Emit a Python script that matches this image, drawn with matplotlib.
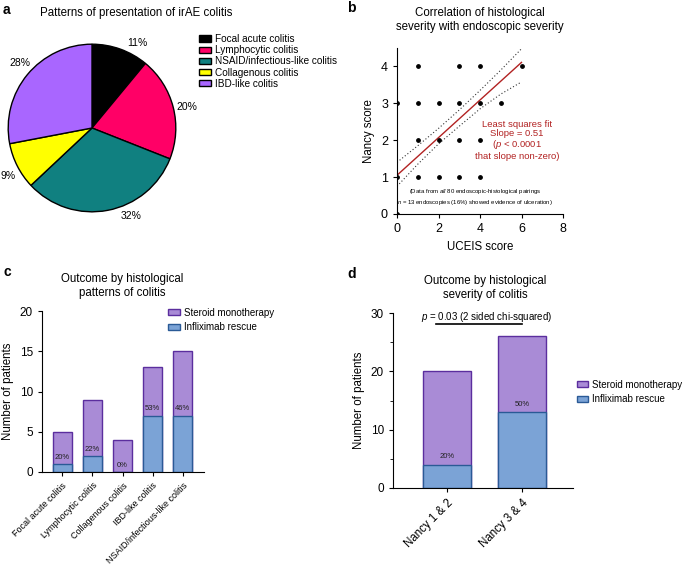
import matplotlib.pyplot as plt
import numpy as np

plt.rcParams['font.family'] = ['Liberation Sans', 'DejaVu Sans']
plt.rcParams['mathtext.fontset'] = 'custom'
plt.rcParams['mathtext.rm'] = 'Liberation Sans'
plt.rcParams['mathtext.it'] = 'Liberation Sans:italic'

# panel a
pie_labels = ["Focal acute colitis", "Lymphocytic colitis", "NSAID/infectious-like colitis",
              "Collagenous colitis", "IBD-like colitis"]
pie_values = [11, 20, 32, 9, 28]
pie_colors = ["#000000", "#FF0066", "#108080", "#FFFF00", "#A966FF"]
pie_label_shift = [-8, -2, 13, 3, -3]  # degrees, label nudges as in the original

# panel b
uceis_x = [0, 0, 0, 1, 1, 1, 1, 2, 2, 2, 3, 3, 3, 3, 4, 4, 4, 4, 5, 6]
nancy_y = [0, 1, 3, 1, 2, 3, 4, 1, 2, 3, 1, 2, 3, 4, 1, 2, 3, 4, 3, 4]
fit_slope = 0.51
fit_intercept = 1.05
band_x = [0, 1, 2, 3, 4, 5, 6]
band_upper = [1.40, 1.85, 2.32, 2.82, 3.35, 3.90, 4.48]
band_lower = [0.75, 1.35, 1.90, 2.38, 2.85, 3.25, 3.58]

# panel c
c_cats = ["Focal acute colitis", "Lymphocytic colitis", "Collagenous colitis",
          "IBD-like colitis", "NSAID/infectious-like colitis"]
c_total = [5, 9, 4, 13, 15]
c_inflix = [1, 2, 0, 7, 7]
c_pct = ["20%", "22%", "0%", "53%", "46%"]

# panel d
d_cats = ["Nancy 1 & 2", "Nancy 3 & 4"]
d_total = [20, 26]
d_inflix = [4, 13]
d_pct = ["20%", "50%"]

ster_fc, ster_ec = "#A98BD6", "#5B2E9E"
inf_fc, inf_ec = "#7BA3D6", "#2A5A96"
title_fs = 8.3

fig = plt.figure(figsize=(6.85, 5.69), dpi=100)

# ---- a
ax = fig.add_axes([4 / 685, 1 - 216 / 569, 176 / 685, 176 / 569])
wedges, _ = ax.pie(pie_values, colors=pie_colors, startangle=90, counterclock=False,
                   wedgeprops=dict(edgecolor="black", linewidth=1.0))
ang0 = 90
for v, sh in zip(pie_values, pie_label_shift):
    mid = np.deg2rad(ang0 - v * 3.6 / 2 + sh)
    ax.text(1.16 * np.cos(mid), 1.15 * np.sin(mid), f"{v}%", ha="center", va="center", fontsize=7.5)
    ang0 -= v * 3.6
ax.set_xlim(-1.05, 1.05)
ax.set_ylim(-1.05, 1.05)
ax.set_aspect("equal")
fig.text(136 / 685, 1 - 13 / 569, "Patterns of presentation of irAE colitis", ha="center",
         va="center", fontsize=title_fs)
fig.legend(wedges, pie_labels, loc="upper left", bbox_to_anchor=(199 / 685, 1 - 34 / 569),
           frameon=False, fontsize=7.2, handlelength=1.2, handleheight=0.6, labelspacing=0.12,
           handletextpad=0.4, borderaxespad=0, borderpad=0)

# ---- b
ax = fig.add_axes([397 / 685, 1 - 214 / 569, 166 / 685, 166 / 569])
ax.scatter(uceis_x, nancy_y, s=6, color="black", zorder=3, clip_on=True)
xs = np.array([0, 6])
ax.plot(xs, fit_intercept + fit_slope * xs, color="#B22222", lw=1.0)
ax.plot(band_x, band_upper, color="#333333", lw=0.8, ls=(0, (1, 2)))
ax.plot(band_x, band_lower, color="#333333", lw=0.8, ls=(0, (1, 2)))
ax.set_xlim(0, 8)
ax.set_ylim(0, 4.5)
ax.set_xticks([0, 2, 4, 6, 8])
ax.set_yticks([0, 1, 2, 3, 4])
ax.spines[["top", "right"]].set_visible(False)
ax.tick_params(labelsize=9, length=3)
ax.set_xlabel("UCEIS score", fontsize=8.3)
ax.set_ylabel("Nancy score", fontsize=8.3)
ax.text(5.78, 2.0, "Least squares fit\nSlope = 0.51\n($\\it{p}$ < 0.0001\nthat slope non-zero)",
        ha="center", va="center", color="#B22222", fontsize=6.8, linespacing=1.05)
ax.text(3.76, 0.46, "(Data from $\\it{all}$ 80 endoscopic-histological pairings\n"
        "$\\it{n}$ = 13 endoscopies (16%) showed evidence of ulceration)",
        ha="center", va="center", fontsize=4.3, linespacing=1.3)
fig.text(480 / 685, 1 - 20 / 569, "Correlation of histological\nseverity with endoscopic severity",
         ha="center", va="center", fontsize=title_fs, linespacing=1.2)

# ---- c
ax = fig.add_axes([42 / 685, 1 - 472 / 569, 162 / 685, 161 / 569])
xc = np.arange(len(c_cats))
ax.bar(xc, c_total, width=0.63, color=ster_fc, edgecolor=ster_ec, lw=1.0, label="Steroid monotherapy")
ax.bar(xc, c_inflix, width=0.63, color=inf_fc, edgecolor=inf_ec, lw=1.0, label="Infliximab rescue")
for x, v, t in zip(xc, c_inflix, c_pct):
    ax.text(x, v + 0.85, t, ha="center", va="center", fontsize=5.5, color="#222222")
ax.set_xlim(-0.67, 4.7)
ax.set_ylim(0, 20)
ax.set_yticks([0, 5, 10, 15, 20])
ax.set_xticks(xc)
ax.set_xticklabels(c_cats, rotation=45, ha="right", rotation_mode="anchor", fontsize=6.5)
ax.spines[["top", "right"]].set_visible(False)
ax.tick_params(axis="y", labelsize=8.5, length=3)
ax.tick_params(axis="x", length=3)
ax.set_ylabel("Number of patients", fontsize=8.3)
ax.legend(loc="upper left", bbox_to_anchor=(0.78, 1.02), frameon=False, fontsize=7,
          handlelength=1.2, handleheight=0.6, labelspacing=0.45, handletextpad=0.4,
          borderaxespad=0, borderpad=0)
fig.text(122 / 685, 1 - 286 / 569, "Outcome by histological\npatterns of colitis", ha="center",
         va="center", fontsize=title_fs, linespacing=1.2)

# ---- d
ax = fig.add_axes([393 / 685, 1 - 488 / 569, 180 / 685, 175 / 569])
xd = np.arange(len(d_cats))
ax.bar(xd, d_total, width=0.65, color=ster_fc, edgecolor=ster_ec, lw=1.0, label="Steroid monotherapy")
ax.bar(xd, d_inflix, width=0.65, color=inf_fc, edgecolor=inf_ec, lw=1.0, label="Infliximab rescue")
for x, v, t in zip(xd, d_inflix, d_pct):
    ax.text(x, v + 1.4, t, ha="center", va="center", fontsize=5.5, color="#222222")
ax.plot([-0.15, 1.0], [28.1, 28.1], color="black", lw=1.2)
ax.text(0.53, 29.4, "$\\it{p}$ = 0.03 (2 sided chi-squared)", ha="center", va="center", fontsize=7)
ax.set_xlim(-0.72, 1.68)
ax.set_ylim(0, 30)
ax.set_yticks([0, 10, 20, 30])
ax.set_yticks([5, 15, 25], minor=True)
ax.set_xticks(xd)
ax.set_xticklabels(d_cats, rotation=45, ha="right", rotation_mode="anchor", fontsize=8.3)
ax.spines[["top", "right"]].set_visible(False)
ax.tick_params(axis="y", labelsize=8.5, length=3)
ax.tick_params(axis="y", which="minor", length=2)
ax.tick_params(axis="x", length=3)
ax.set_ylabel("Number of patients", fontsize=8.3)
ax.legend(loc="upper left", bbox_to_anchor=(1.02, 0.62), frameon=False, fontsize=7,
          handlelength=1.2, handleheight=0.6, labelspacing=0.5, handletextpad=0.4,
          borderaxespad=0, borderpad=0)
fig.text(485 / 685, 1 - 288 / 569, "Outcome by histological\nseverity of colitis", ha="center",
         va="center", fontsize=title_fs, linespacing=1.2)

for lab, x, y in [("a", 3, 10), ("b", 347, 8), ("c", 3, 272), ("d", 347, 274)]:
    fig.text(x / 685, 1 - y / 569, lab, fontsize=10, fontweight="bold", ha="left", va="center")

fig.savefig("out.png", dpi=100)
